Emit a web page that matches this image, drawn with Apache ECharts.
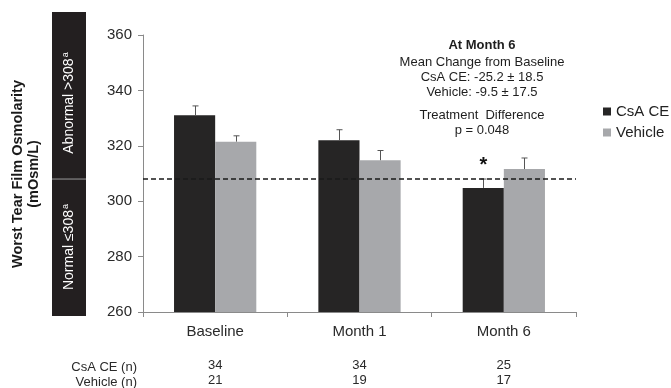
<!DOCTYPE html>
<html>
<head>
<meta charset="utf-8">
<script src="https://cdn.jsdelivr.net/npm/echarts@6/dist/echarts.min.js"></script>
<style>
  html, body { margin: 0; padding: 0; background: #fff; }
  #chart { width: 671px; height: 388px; }
</style>
</head>
<body>
<div id="chart"></div>
<script>
// Worst tear film osmolarity by visit, CsA CE vs vehicle (mean + SE)
const categories = ['Baseline', 'Month 1', 'Month 6'];
const csaMean = [331, 322, 304.8];
const vehMean = [321.5, 314.8, 311.6];
const csaErr = [3.4, 3.8, 3.2];
const vehErr = [2.1, 3.5, 4.0];
const csaMarks = ['', '', '*'];
const vehMarks = ['', '', ''];
const nCsA = [34, 34, 25];
const nVehicle = [21, 19, 17];
const threshold = 308;
const yMin = 260, yMax = 360, yStep = 20;

const FONT = '"Liberation Sans", Arial, Helvetica, sans-serif';
const CSA_COLOR = '#262525';
const VEH_COLOR = '#a7a8ab';
const CAT_GAP = 0.43;

const chart = echarts.init(document.getElementById('chart'));

// Upper whisker (mean + error) with a short cap, optional significance mark
function whiskerSeries(name, groupIndex, means, errs, marks) {
  return {
    type: 'custom',
    name: name + ' error',
    z: 5,
    silent: true,
    data: means.map((m, i) => [i, m, m + errs[i]]),
    renderItem(params, api) {
      const band = api.size([1, 0])[0];
      const barW = band * (1 - CAT_GAP) / 2;
      const off = (groupIndex === 0 ? -0.5 : 0.5) * barW;
      const base = api.coord([api.value(0), api.value(1)]);
      const top = api.coord([api.value(0), api.value(2)]);
      const x = Math.round(base[0] + off) + 0.5;
      const children = [
        { type: 'line', shape: { x1: x, y1: base[1], x2: x, y2: top[1] },
          style: { stroke: '#555', lineWidth: 1 } },
        { type: 'line', shape: { x1: x - 3, y1: top[1], x2: x + 3, y2: top[1] },
          style: { stroke: '#555', lineWidth: 1 } }
      ];
      const mark = marks[params.dataIndex];
      if (mark) {
        children.push({
          type: 'text',
          style: { text: mark, x: x, y: top[1] - 14, align: 'center', verticalAlign: 'middle',
                   font: 'bold 20px ' + FONT, fill: '#111' }
        });
      }
      return { type: 'group', children };
    }
  };
}

const option = {
  backgroundColor: '#fff',
  animation: false,
  textStyle: { fontFamily: FONT },
  grid: { left: 143, right: 95, top: 35, bottom: 73, containLabel: false },
  legend: {
    orient: 'vertical',
    left: 603,
    top: 104,
    padding: 0,
    itemWidth: 8,
    itemHeight: 8,
    itemGap: 6,
    icon: 'rect',
    data: ['CsA CE', 'Vehicle'],
    textStyle: { fontSize: 15, color: '#222', fontFamily: FONT }
  },
  xAxis: [
    {
      type: 'category',
      data: categories,
      axisLine: { lineStyle: { color: '#8a8a8a', width: 1 } },
      axisTick: { show: true, alignWithLabel: false, length: 5, lineStyle: { color: '#8a8a8a' } },
      axisLabel: { fontSize: 15, color: '#2a2a2a', margin: 12, fontFamily: FONT }
    },
    {
      type: 'category',
      position: 'bottom',
      data: categories.map((c, i) => nCsA[i] + '\n' + nVehicle[i]),
      axisLine: { show: false },
      axisTick: { show: false },
      axisLabel: { fontSize: 13, color: '#2a2a2a', margin: 46, lineHeight: 15, fontFamily: FONT }
    }
  ],
  yAxis: {
    type: 'value',
    min: yMin,
    max: yMax,
    interval: yStep,
    splitLine: { show: false },
    axisLine: { show: true, lineStyle: { color: '#8a8a8a', width: 1 } },
    axisTick: { show: true, length: 5, lineStyle: { color: '#8a8a8a' } },
    axisLabel: { fontSize: 15, color: '#2a2a2a', margin: 11, fontFamily: FONT }
  },
  series: [
    {
      name: 'CsA CE',
      type: 'bar',
      data: csaMean,
      itemStyle: { color: CSA_COLOR },
      barGap: '0%',
      barCategoryGap: (CAT_GAP * 100) + '%',
      markLine: {
        silent: true,
        symbol: 'none',
        label: { show: false },
        lineStyle: { color: '#1a1a1a', type: [5, 3], width: 1.6 },
        data: [{ yAxis: threshold }],
        z: 6
      }
    },
    {
      name: 'Vehicle',
      type: 'bar',
      data: vehMean,
      itemStyle: { color: VEH_COLOR }
    },
    whiskerSeries('CsA CE', 0, csaMean, csaErr, csaMarks),
    whiskerSeries('Vehicle', 1, vehMean, vehErr, vehMarks)
  ]
};

chart.setOption(option);

// Side panel: dark band split at the threshold, axis title, annotation and n-row headers
const yThresh = chart.convertToPixel({ yAxisIndex: 0 }, threshold);
const boxTop = 12, boxBottom = 316, boxLeft = 52, boxW = 34;
const annoX = 482;
const annoLines = [
  { t: 'At Month 6', y: 45, bold: true },
  { t: 'Mean Change from Baseline', y: 62 },
  { t: 'CsA CE: -25.2 \u00b1 18.5', y: 77 },
  { t: 'Vehicle: -9.5 \u00b1 17.5', y: 92 },
  { t: 'Treatment  Difference', y: 115 },
  { t: 'p = 0.048', y: 130 }
];
const bandRich = {
  t: { fontSize: 14, fill: '#fff', fontFamily: FONT },
  s: { fontSize: 9, fill: '#fff', fontFamily: FONT, verticalAlign: 'top', padding: [0, 0, 6, 1] }
};

chart.setOption({
  graphic: [
    { type: 'rect', shape: { x: boxLeft, y: boxTop, width: boxW, height: boxBottom - boxTop },
      style: { fill: '#231f20' }, z: 1 },
    { type: 'line', shape: { x1: boxLeft, y1: yThresh, x2: boxLeft + boxW, y2: yThresh },
      style: { stroke: '#9a9a9a', lineWidth: 1 }, z: 2 },
    { type: 'text', x: boxLeft + boxW / 2, y: yThresh - 76, rotation: Math.PI / 2, z: 3,
      style: { text: '{t|Abnormal >308}{s|a}', align: 'center', verticalAlign: 'middle', rich: bandRich } },
    { type: 'text', x: boxLeft + boxW / 2, y: yThresh + 68, rotation: Math.PI / 2, z: 3,
      style: { text: '{t|Normal \u2264308}{s|a}', align: 'center', verticalAlign: 'middle', rich: bandRich } },
    { type: 'text', x: 26, y: 174, rotation: Math.PI / 2, z: 3,
      style: { text: 'Worst Tear Film Osmolarity\n(mOsm/L)', align: 'center', verticalAlign: 'middle',
               font: 'bold 14.5px ' + FONT, lineHeight: 16, fill: '#1a1a1a' } },
    ...annoLines.map(l => ({
      type: 'text', x: annoX, y: l.y, z: 3,
      style: { text: l.t, align: 'center', verticalAlign: 'middle',
               font: (l.bold ? 'bold ' : '') + '13px ' + FONT, fill: '#1e1e1e' }
    })),
    { type: 'text', x: 137, y: 367, z: 3,
      style: { text: 'CsA CE (n)', align: 'right', verticalAlign: 'middle', font: '13px ' + FONT, fill: '#2a2a2a' } },
    { type: 'text', x: 137, y: 382, z: 3,
      style: { text: 'Vehicle (n)', align: 'right', verticalAlign: 'middle', font: '13px ' + FONT, fill: '#2a2a2a' } }
  ]
});
</script>
</body>
</html>
